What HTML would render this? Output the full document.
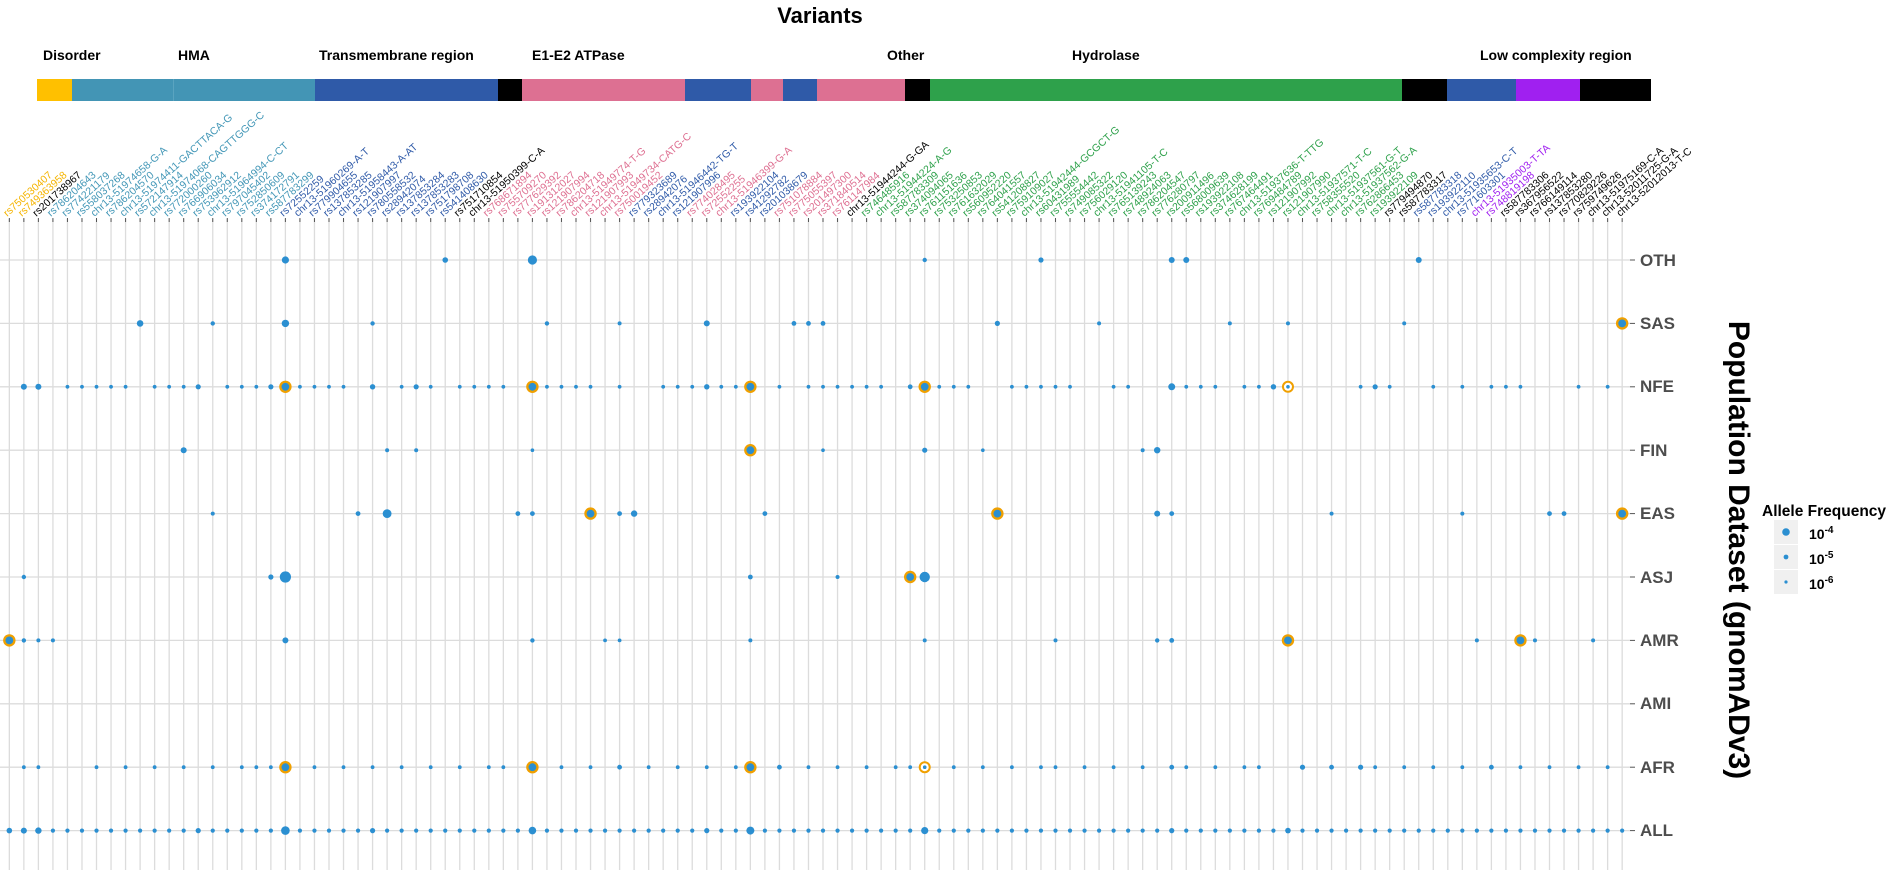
<!DOCTYPE html>
<html><head><meta charset="utf-8">
<style>
html,body{margin:0;padding:0;background:#fff;}
svg{display:block;font-family:"Liberation Sans",Arial,sans-serif;}
.v{font-size:10.5px;}
.y{fill:#f5b400}.k{fill:#000}.t{fill:#4397b7}.b{fill:#2f5aa8}.p{fill:#de6f91}.g{fill:#2ea14b}.u{fill:#a020f0}
.dl{font-size:14px;font-weight:bold;fill:#000}
.rl{font-size:17px;font-weight:bold;fill:#4d4d4d}
</style></head>
<body>
<svg id="s" width="1887" height="870" viewBox="0 0 1887 870" xmlns="http://www.w3.org/2000/svg">
<text x="820" y="23" text-anchor="middle" style="font-size:22px;font-weight:bold">Variants</text>
<g class="dl">
<text x="43" y="60">Disorder</text>
<text x="178" y="60">HMA</text>
<text x="319" y="60">Transmembrane region</text>
<text x="532" y="60">E1-E2 ATPase</text>
<text x="887" y="60">Other</text>
<text x="1072" y="60">Hydrolase</text>
<text x="1480" y="60">Low complexity region</text>
</g>
<g>
<rect x="37" y="79" width="35" height="22" fill="#ffc000"/>
<rect x="72" y="79" width="243" height="22" fill="#4395b5"/>
<rect x="173" y="79" width="1" height="22" fill="#5aa4c0"/>
<rect x="315" y="79" width="183" height="22" fill="#2f5aa8"/>
<rect x="498" y="79" width="24" height="22" fill="#000"/>
<rect x="522" y="79" width="163" height="22" fill="#dd7092"/>
<rect x="685" y="79" width="66" height="22" fill="#2f5aa8"/>
<rect x="751" y="79" width="32" height="22" fill="#dd7092"/>
<rect x="783" y="79" width="34" height="22" fill="#2f5aa8"/>
<rect x="817" y="79" width="88" height="22" fill="#dd7092"/>
<rect x="905" y="79" width="25" height="22" fill="#000"/>
<rect x="930" y="79" width="472" height="22" fill="#2ea14b"/>
<rect x="1402" y="79" width="45" height="22" fill="#000"/>
<rect x="1447" y="79" width="69" height="22" fill="#2f5aa8"/>
<rect x="1516" y="79" width="64" height="22" fill="#a020f0"/>
<rect x="1580" y="79" width="71" height="22" fill="#000"/>
</g>
<g id="grid"></g>
<g class="v">
<text class="y" transform="translate(7.3,217) rotate(-42)">rs750530407</text>
<text class="y" transform="translate(21.9,217) rotate(-42)">rs749363958</text>
<text class="k" transform="translate(36.4,217) rotate(-42)">rs201738967</text>
<text class="t" transform="translate(50.9,217) rotate(-42)">rs786204643</text>
<text class="t" transform="translate(65.5,217) rotate(-42)">rs774221179</text>
<text class="t" transform="translate(80.0,217) rotate(-42)">rs558037268</text>
<text class="t" transform="translate(94.5,217) rotate(-42)">chr13-51974658-G-A</text>
<text class="t" transform="translate(109.0,217) rotate(-42)">rs786204570</text>
<text class="t" transform="translate(123.6,217) rotate(-42)">chr13-51974411-GACTTACA-G</text>
<text class="t" transform="translate(138.1,217) rotate(-42)">rs572147914</text>
<text class="t" transform="translate(152.6,217) rotate(-42)">chr13-51974068-CAGTTGGG-C</text>
<text class="t" transform="translate(167.2,217) rotate(-42)">rs772000260</text>
<text class="t" transform="translate(181.7,217) rotate(-42)">rs766906034</text>
<text class="t" transform="translate(196.2,217) rotate(-42)">rs753962912</text>
<text class="t" transform="translate(210.8,217) rotate(-42)">chr13-51964994-C-CT</text>
<text class="t" transform="translate(225.3,217) rotate(-42)">rs797045402</text>
<text class="t" transform="translate(239.8,217) rotate(-42)">rs752850609</text>
<text class="t" transform="translate(254.3,217) rotate(-42)">rs374172791</text>
<text class="t" transform="translate(268.9,217) rotate(-42)">rs587783299</text>
<text class="b" transform="translate(283.4,217) rotate(-42)">rs72552259</text>
<text class="b" transform="translate(297.9,217) rotate(-42)">chr13-51960269-A-T</text>
<text class="b" transform="translate(312.5,217) rotate(-42)">rs779904655</text>
<text class="b" transform="translate(327.0,217) rotate(-42)">rs137853285</text>
<text class="b" transform="translate(341.5,217) rotate(-42)">chr13-51958443-A-AT</text>
<text class="b" transform="translate(356.1,217) rotate(-42)">rs121907997</text>
<text class="b" transform="translate(370.6,217) rotate(-42)">rs780558532</text>
<text class="b" transform="translate(385.1,217) rotate(-42)">rs28942074</text>
<text class="b" transform="translate(399.6,217) rotate(-42)">rs137853284</text>
<text class="b" transform="translate(414.2,217) rotate(-42)">rs137853283</text>
<text class="b" transform="translate(428.7,217) rotate(-42)">rs751798708</text>
<text class="b" transform="translate(443.2,217) rotate(-42)">rs541408630</text>
<text class="k" transform="translate(457.8,217) rotate(-42)">rs751710854</text>
<text class="k" transform="translate(472.3,217) rotate(-42)">chr13-51950399-C-A</text>
<text class="p" transform="translate(486.8,217) rotate(-42)">rs768671894</text>
<text class="p" transform="translate(501.4,217) rotate(-42)">rs755709270</text>
<text class="p" transform="translate(515.9,217) rotate(-42)">rs777629392</text>
<text class="p" transform="translate(530.4,217) rotate(-42)">rs191312027</text>
<text class="p" transform="translate(544.9,217) rotate(-42)">rs121907994</text>
<text class="p" transform="translate(559.5,217) rotate(-42)">rs786204718</text>
<text class="p" transform="translate(574.0,217) rotate(-42)">chr13-51949774-T-G</text>
<text class="p" transform="translate(588.5,217) rotate(-42)">rs121907993</text>
<text class="p" transform="translate(603.1,217) rotate(-42)">chr13-51949734-CATG-C</text>
<text class="p" transform="translate(617.6,217) rotate(-42)">rs750019452</text>
<text class="b" transform="translate(632.1,217) rotate(-42)">rs779323689</text>
<text class="b" transform="translate(646.7,217) rotate(-42)">rs28942076</text>
<text class="b" transform="translate(661.2,217) rotate(-42)">chr13-51946442-TG-T</text>
<text class="b" transform="translate(675.7,217) rotate(-42)">rs121907996</text>
<text class="p" transform="translate(690.2,217) rotate(-42)">rs774028495</text>
<text class="p" transform="translate(704.8,217) rotate(-42)">rs72552255</text>
<text class="p" transform="translate(719.3,217) rotate(-42)">chr13-51946399-G-A</text>
<text class="b" transform="translate(733.8,217) rotate(-42)">rs193922104</text>
<text class="b" transform="translate(748.4,217) rotate(-42)">rs41292782</text>
<text class="b" transform="translate(762.9,217) rotate(-42)">rs201038679</text>
<text class="p" transform="translate(777.4,217) rotate(-42)">rs751078884</text>
<text class="p" transform="translate(792.0,217) rotate(-42)">rs775055397</text>
<text class="p" transform="translate(806.5,217) rotate(-42)">rs201497300</text>
<text class="p" transform="translate(821.0,217) rotate(-42)">rs371840514</text>
<text class="p" transform="translate(835.5,217) rotate(-42)">rs761147984</text>
<text class="k" transform="translate(850.1,217) rotate(-42)">chr13-51944244-G-GA</text>
<text class="g" transform="translate(864.6,217) rotate(-42)">rs746485916</text>
<text class="g" transform="translate(879.1,217) rotate(-42)">chr13-51944224-A-G</text>
<text class="g" transform="translate(893.7,217) rotate(-42)">rs587783309</text>
<text class="g" transform="translate(908.2,217) rotate(-42)">rs374094065</text>
<text class="g" transform="translate(922.7,217) rotate(-42)">rs761151636</text>
<text class="g" transform="translate(937.3,217) rotate(-42)">rs753250853</text>
<text class="g" transform="translate(951.8,217) rotate(-42)">rs761632029</text>
<text class="g" transform="translate(966.3,217) rotate(-42)">rs560952220</text>
<text class="g" transform="translate(980.8,217) rotate(-42)">rs764041557</text>
<text class="g" transform="translate(995.4,217) rotate(-42)">rs541208827</text>
<text class="g" transform="translate(1009.9,217) rotate(-42)">rs759109027</text>
<text class="g" transform="translate(1024.4,217) rotate(-42)">chr13-51942444-GCGCT-G</text>
<text class="g" transform="translate(1039.0,217) rotate(-42)">rs60431989</text>
<text class="g" transform="translate(1053.5,217) rotate(-42)">rs755554442</text>
<text class="g" transform="translate(1068.0,217) rotate(-42)">rs749085322</text>
<text class="g" transform="translate(1082.6,217) rotate(-42)">rs756029120</text>
<text class="g" transform="translate(1097.1,217) rotate(-42)">chr13-51941105-T-C</text>
<text class="g" transform="translate(1111.6,217) rotate(-42)">rs765139243</text>
<text class="g" transform="translate(1126.1,217) rotate(-42)">rs748924063</text>
<text class="g" transform="translate(1140.7,217) rotate(-42)">rs786204547</text>
<text class="g" transform="translate(1155.2,217) rotate(-42)">rs776280797</text>
<text class="g" transform="translate(1169.7,217) rotate(-42)">rs200911496</text>
<text class="g" transform="translate(1184.3,217) rotate(-42)">rs568009639</text>
<text class="g" transform="translate(1198.8,217) rotate(-42)">rs193922108</text>
<text class="g" transform="translate(1213.3,217) rotate(-42)">rs374628199</text>
<text class="g" transform="translate(1227.9,217) rotate(-42)">rs767464491</text>
<text class="g" transform="translate(1242.4,217) rotate(-42)">chr13-51937636-T-TTG</text>
<text class="g" transform="translate(1256.9,217) rotate(-42)">rs769484789</text>
<text class="g" transform="translate(1271.4,217) rotate(-42)">rs121907992</text>
<text class="g" transform="translate(1286.0,217) rotate(-42)">rs121907990</text>
<text class="g" transform="translate(1300.5,217) rotate(-42)">chr13-51937571-T-C</text>
<text class="g" transform="translate(1315.0,217) rotate(-42)">rs758355520</text>
<text class="g" transform="translate(1329.6,217) rotate(-42)">chr13-51937561-G-T</text>
<text class="g" transform="translate(1344.1,217) rotate(-42)">chr13-51937562-G-A</text>
<text class="g" transform="translate(1358.6,217) rotate(-42)">rs762866453</text>
<text class="g" transform="translate(1373.2,217) rotate(-42)">rs193922109</text>
<text class="k" transform="translate(1387.7,217) rotate(-42)">rs779494870</text>
<text class="k" transform="translate(1402.2,217) rotate(-42)">rs587783317</text>
<text class="b" transform="translate(1416.7,217) rotate(-42)">rs587783318</text>
<text class="b" transform="translate(1431.3,217) rotate(-42)">rs193922110</text>
<text class="b" transform="translate(1445.8,217) rotate(-42)">chr13-51935653-C-T</text>
<text class="b" transform="translate(1460.3,217) rotate(-42)">rs771603301</text>
<text class="u" transform="translate(1474.9,217) rotate(-42)">chr13-51935003-T-TA</text>
<text class="u" transform="translate(1489.4,217) rotate(-42)">rs748819198</text>
<text class="k" transform="translate(1503.9,217) rotate(-42)">rs587783306</text>
<text class="k" transform="translate(1518.5,217) rotate(-42)">rs367956522</text>
<text class="k" transform="translate(1533.0,217) rotate(-42)">rs766149114</text>
<text class="k" transform="translate(1547.5,217) rotate(-42)">rs137853280</text>
<text class="k" transform="translate(1562.0,217) rotate(-42)">rs770829226</text>
<text class="k" transform="translate(1576.6,217) rotate(-42)">rs759749626</text>
<text class="k" transform="translate(1591.1,217) rotate(-42)">chr13-51975169-C-A</text>
<text class="k" transform="translate(1605.6,217) rotate(-42)">chr13-52011725-G-A</text>
<text class="k" transform="translate(1620.2,217) rotate(-42)">chr13-52012013-T-C</text>
</g>
<g class="rl">
<text x="1640" y="266">OTH</text>
<text x="1640" y="329">SAS</text>
<text x="1640" y="392">NFE</text>
<text x="1640" y="456">FIN</text>
<text x="1640" y="519">EAS</text>
<text x="1640" y="583">ASJ</text>
<text x="1640" y="646">AMR</text>
<text x="1640" y="709">AMI</text>
<text x="1640" y="773">AFR</text>
<text x="1640" y="836">ALL</text>
</g>
<text transform="translate(1729,550) rotate(90)" text-anchor="middle" style="font-size:30px;font-weight:bold">Population Dataset (gnomADv3)</text>
<text x="1762" y="516" style="font-size:15.5px;font-weight:bold">Allele Frequency</text>
<rect x="1774" y="520" width="24" height="24" fill="#f0f0f0"/>
<rect x="1774" y="545" width="24" height="24" fill="#f0f0f0"/>
<rect x="1774" y="570" width="24" height="24" fill="#f0f0f0"/>
<circle cx="1786" cy="532" r="3.8" fill="#2b8fd1"/>
<circle cx="1786" cy="557" r="2.4" fill="#2b8fd1"/>
<circle cx="1786" cy="582" r="1.6" fill="#2b8fd1"/>
<g style="font-size:14px;font-weight:bold">
<text x="1809" y="539">10<tspan dy="-6" style="font-size:10px">-4</tspan></text>
<text x="1809" y="564">10<tspan dy="-6" style="font-size:10px">-5</tspan></text>
<text x="1809" y="589">10<tspan dy="-6" style="font-size:10px">-6</tspan></text>
</g>
<g id="dots"></g>
</svg>
<script>
(function(){
var NS="http://www.w3.org/2000/svg";
function cx(i){return 9.33+14.53*i;}
var rows={OTH:260,SAS:323.4,NFE:386.8,FIN:450.2,EAS:513.6,ASJ:577,AMR:640.4,AMI:703.8,AFR:767.2,ALL:830.6};
var g=document.getElementById('grid'),d=document.getElementById('dots');
function el(p,tag,a){var e=document.createElementNS(NS,tag);for(var k in a)e.setAttribute(k,a[k]);p.appendChild(e);return e;}
for(var r in rows){el(g,'line',{x1:0,x2:1630,y1:rows[r],y2:rows[r],stroke:'#dcdcdc','stroke-width':1.3});
 el(g,'line',{x1:1630,x2:1635,y1:rows[r],y2:rows[r],stroke:'#555','stroke-width':1});}
for(var i=0;i<112;i++){el(g,'line',{x1:cx(i),x2:cx(i),y1:219,y2:870,stroke:'#dcdcdc','stroke-width':1.3});
 el(g,'line',{x1:cx(i),x2:cx(i),y1:218,y2:222,stroke:'#555','stroke-width':1});}
var B='#2b8fd1',O='#f0a000';
function dot(row,i,r){el(d,'circle',{cx:cx(i),cy:rows[row],r:r,fill:B});}
function org(row,i){el(d,'circle',{cx:cx(i),cy:rows[row],r:6.2,fill:O});el(d,'circle',{cx:cx(i),cy:rows[row],r:3.9,fill:B});}
function ring(row,i){el(d,'circle',{cx:cx(i),cy:rows[row],r:6,fill:O});el(d,'circle',{cx:cx(i),cy:rows[row],r:4,fill:'#fff'});el(d,'circle',{cx:cx(i),cy:rows[row],r:1.8,fill:B});}
function set(row,list){list.forEach(function(a){dot(row,a[0],a[1]);});}
set('OTH',[[19,3.6],[30,2.8],[36,4.6],[63,2.2],[71,2.6],[80,3],[81,3],[97,3]]);
set('SAS',[[9,3.3],[14,2.2],[19,3.7],[25,2.2],[37,2.2],[42,2],[48,3],[54,2.4],[55,2.4],[56,2.4],[68,2.6],[75,2],[84,2],[88,2],[96,2]]);
org('SAS',111);
var nfe=[1,2,4,5,6,7,8,10,11,12,13,15,16,17,18,20,21,22,23,25,27,28,29,31,32,33,34,37,38,39,40,42,45,46,47,48,49,50,53,55,56,57,58,59,60,62,64,65,66,69,70,71,72,73,76,77,80,81,82,83,85,86,87,93,94,95,98,100,102,103,104,108,110];
var big={1:3,2:3,13:2.6,18:2.6,25:2.7,28:2.6,48:2.7,62:2.4,80:3.5,87:2.7,94:2.6};
nfe.forEach(function(i){dot('NFE',i,big[i]||1.9);});
[19,36,51,63].forEach(function(i){org('NFE',i);});ring('NFE',88);
set('FIN',[[12,3],[26,2],[28,2],[36,1.8],[56,1.8],[63,2.6],[67,1.8],[78,2],[79,3.2]]);org('FIN',51);
set('EAS',[[14,2],[24,2.4],[26,4.4],[35,2.4],[36,2.4],[42,2.4],[43,3.2],[52,2.4],[79,3],[80,2.4],[91,2],[100,2],[106,2.4],[107,2.4]]);
org('EAS',40);org('EAS',68);org('EAS',111);
set('ASJ',[[1,2.2],[18,2.6],[19,5.6],[51,2.4],[57,2],[63,5.2]]);org('ASJ',62);
set('AMR',[[1,2.2],[2,2],[3,2],[19,3],[36,2.2],[41,1.9],[42,1.9],[51,2],[63,2],[72,2],[79,2.2],[80,2.4],[101,2],[105,2],[109,2]]);
org('AMR',0);org('AMR',88);org('AMR',104);
var afr=[1,2,6,8,10,12,14,16,17,18,21,23,25,27,29,31,33,34,38,40,42,44,46,48,50,53,55,57,59,61,62,65,67,69,71,72,74,76,78,80,81,83,85,86,89,91,93,94,96,98,100,102,104,106,108,110];
var ab={42:2.4,53:2.4,80:2.4,89:2.6,91:2.4,93:2.6,102:2.4};
afr.forEach(function(i){dot('AFR',i,ab[i]||1.9);});
[19,36,51].forEach(function(i){org('AFR',i);});ring('AFR',63);
var allb={0:2.8,1:3,2:3.2,19:4.3,36:3.8,51:4,63:3.6,88:2.8,13:2.6,25:2.6,48:2.6,80:2.6};
for(var i=0;i<112;i++){dot('ALL',i,allb[i]||2.1);}
})();
</script>
</body></html>
